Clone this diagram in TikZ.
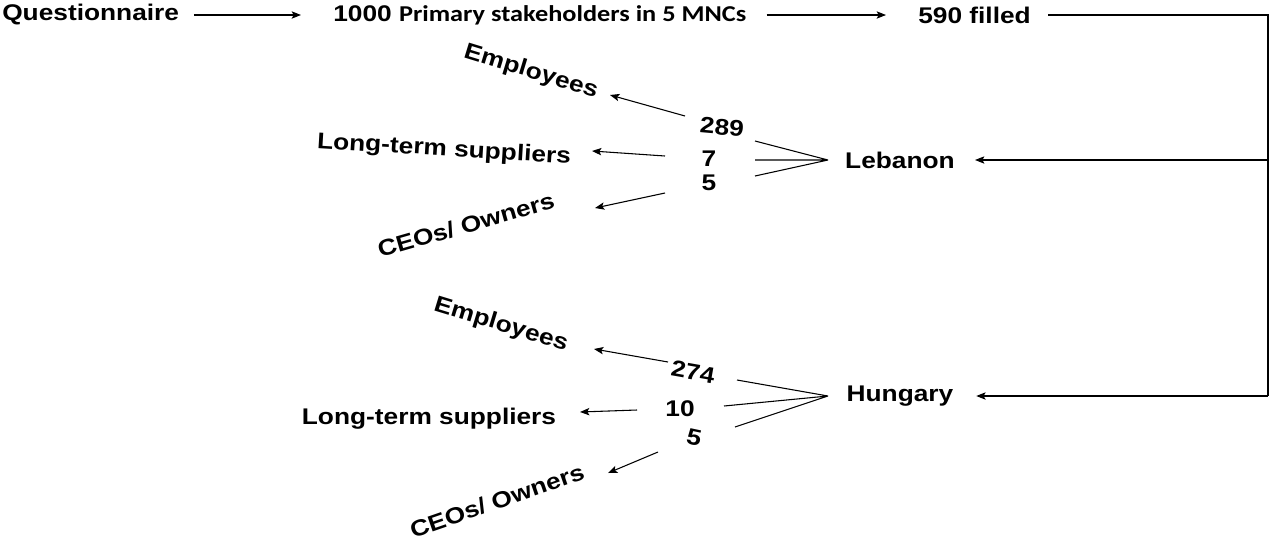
\documentclass[tikz,border=0pt]{standalone}
\usepackage{fontspec}
\setmainfont{Liberation Sans}[FakeStretch=1.16]
\newfontfamily\calfont{Carlito}[FakeStretch=1.16]
\usetikzlibrary{arrows.meta}
\begin{document}
\begin{tikzpicture}[x=0.75pt,y=-0.75pt,
  lbl/.style={font=\fontsize{17}{20}\selectfont\bfseries, inner sep=0pt},
  num/.style={lbl},
  link/.style={line width=0.8pt, draw=black},
  arr/.style={link, -{Stealth[length=7pt,width=5.5pt,inset=1.5pt]}}]
\useasboundingbox (0,0) rectangle (1270,540);

% top row
\node[lbl, anchor=west] (q) at (2,15) {Questionnaire};
\node[lbl, anchor=west] (p) at (333,15) {1000 {\calfont Primary stakeholders in 5 MNCs}};
\node[lbl, anchor=west] (f) at (918,15) {590 filled};
\draw[arr, shorten <=11pt, shorten >=24pt] (q.east) -- (p.west);
\draw[arr, shorten <=15pt, shorten >=24pt] (p.east) -- (f.west);

% countries
\node[lbl] (leb) at (900,160) {Lebanon};
\node[lbl] (hun) at (900,396) {Hungary};
\coordinate (rt) at (1268,15);
\coordinate (rl) at (1268,160);
\coordinate (rh) at (1268,396);
\draw[link, shorten <=13pt] (f.east) -- (rt) -- (rh);
\draw[arr, shorten >=15pt] (rl) -- (leb.east);
\draw[arr, shorten >=17pt] (rh) -- (hun.east);

% Lebanon breakdown
\node[num, rotate=-5] (l289) at (722,127) {289};
\node[num] (l7) at (709,159) {7};
\node[num] (l5) at (709,183) {5};
\node[lbl, rotate=-17] (lemp) at (531,72) {Employees};
\node[lbl, rotate=-3.5] (lsup) at (444,150) {Long-term suppliers};
\node[lbl, rotate=16] (lceo) at (466,225) {CEOs/ Owners};
\coordinate (lap) at (828,160);
\coordinate (lf1) at (755,141);
\coordinate (lf2) at (755,160);
\coordinate (lf3) at (755,176);
\draw[link] (lf1) -- (lap) (lf2) -- (lap) (lf3) -- (lap);
\coordinate (la1) at (685,116); \coordinate (lt1) at (610,95);
\coordinate (la2) at (665,156); \coordinate (lt2) at (592,151);
\coordinate (la3) at (665,193); \coordinate (lt3) at (595,208);
\draw[arr] (la1) -- (lt1);
\draw[arr] (la2) -- (lt2);
\draw[arr] (la3) -- (lt3);

% Hungary breakdown
\node[num, rotate=-10] (h274) at (693,372) {274};
\node[num] (h10) at (680,409) {10};
\node[num, rotate=-12] (h5) at (694,437) {5};
\node[lbl, rotate=-17] (hemp) at (501,325) {Employees};
\node[lbl] (hsup) at (429,419) {Long-term suppliers};
\node[lbl, rotate=19] (hceo) at (497,501) {CEOs/ Owners};
\coordinate (hap) at (828,396);
\coordinate (hf1) at (737,380);
\coordinate (hf2) at (724,406);
\coordinate (hf3) at (735,427);
\draw[link] (hf1) -- (hap) (hf2) -- (hap) (hf3) -- (hap);
\coordinate (ha1) at (668,362); \coordinate (ht1) at (594,349);
\coordinate (ha2) at (637,410); \coordinate (ht2) at (580,412);
\coordinate (ha3) at (658,452); \coordinate (ht3) at (608,473);
\draw[arr] (ha1) -- (ht1);
\draw[arr] (ha2) -- (ht2);
\draw[arr] (ha3) -- (ht3);
\end{tikzpicture}
\end{document}
